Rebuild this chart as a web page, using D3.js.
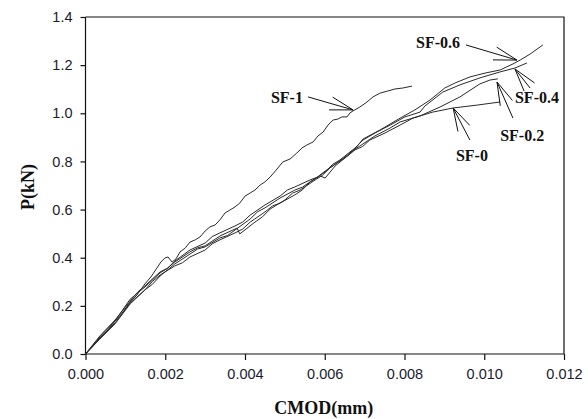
<!DOCTYPE html>
<html>
<head>
<meta charset="utf-8">
<script src="https://cdn.jsdelivr.net/npm/d3@7"></script>
<style>
  body { margin: 0; background: #fff; }
  svg { display: block; }
</style>
</head>
<body>
<div id="container"></div>
<script>
let width = 588;
let height = 419;

// CMOD (mm) and load P (kN) for each specimen
let sf0_cmod = [0, 0.00036, 0.00074, 0.00112, 0.00149, 0.00168, 0.00187, 0.00224, 0.00243, 0.00262, 0.003, 0.00318, 0.00337, 0.00375, 0.00394, 0.00413, 0.0045, 0.00469, 0.00488, 0.00525, 0.00544, 0.00563, 0.00588, 0.00601, 0.00626, 0.00676, 0.00695, 0.00713, 0.00751, 0.00789, 0.00821, 0.00871, 0.00922, 0.00982, 0.0104];
let sf0_load = [0, 0.066, 0.129, 0.212, 0.266, 0.302, 0.328, 0.366, 0.379, 0.403, 0.432, 0.458, 0.474, 0.503, 0.519, 0.548, 0.590, 0.615, 0.627, 0.661, 0.682, 0.715, 0.740, 0.731, 0.781, 0.848, 0.862, 0.889, 0.918, 0.951, 0.980, 1.005, 1.022, 1.034, 1.047];

let sf02_cmod = [0, 0.00036, 0.00074, 0.00112, 0.0013, 0.00149, 0.00187, 0.00205, 0.00224, 0.00262, 0.00281, 0.003, 0.00337, 0.0038, 0.00387, 0.00425, 0.00444, 0.00463, 0.005, 0.00519, 0.00538, 0.00576, 0.00594, 0.00613, 0.00651, 0.0067, 0.00688, 0.00726, 0.00764, 0.00789, 0.00839, 0.00889, 0.00939, 0.00989, 0.01014, 0.01034];
let sf02_load = [0, 0.075, 0.141, 0.220, 0.256, 0.283, 0.341, 0.356, 0.382, 0.424, 0.441, 0.449, 0.490, 0.523, 0.499, 0.548, 0.570, 0.602, 0.640, 0.668, 0.681, 0.723, 0.742, 0.773, 0.818, 0.845, 0.864, 0.906, 0.939, 0.964, 0.989, 1.026, 1.068, 1.122, 1.138, 1.143];

let sf04_cmod = [0, 0.00036, 0.00074, 0.00112, 0.00149, 0.00168, 0.00187, 0.00224, 0.00262, 0.00281, 0.003, 0.00337, 0.00356, 0.00375, 0.00413, 0.00431, 0.0045, 0.00488, 0.00525, 0.00544, 0.00563, 0.00601, 0.0062, 0.00638, 0.00676, 0.00696, 0.00726, 0.00764, 0.00801, 0.00839, 0.00851, 0.00896, 0.00939, 0.00989, 0.0104, 0.01077, 0.01107];
let sf04_load = [0, 0.062, 0.125, 0.208, 0.266, 0.290, 0.324, 0.374, 0.415, 0.436, 0.445, 0.482, 0.492, 0.515, 0.561, 0.590, 0.607, 0.648, 0.681, 0.693, 0.715, 0.756, 0.788, 0.806, 0.856, 0.889, 0.918, 0.951, 0.985, 1.005, 1.030, 1.088, 1.118, 1.147, 1.172, 1.188, 1.209];

let sf06_cmod = [0, 0.00036, 0.00074, 0.00112, 0.00149, 0.00187, 0.00205, 0.00224, 0.00262, 0.003, 0.00318, 0.00337, 0.00375, 0.00394, 0.00413, 0.0045, 0.00488, 0.00506, 0.00525, 0.00563, 0.00582, 0.00601, 0.00638, 0.00657, 0.00676, 0.00696, 0.00739, 0.00789, 0.00826, 0.00864, 0.00901, 0.00927, 0.00964, 0.01002, 0.0104, 0.01072, 0.0109, 0.01115, 0.01147];
let sf06_load = [0, 0.071, 0.137, 0.228, 0.278, 0.337, 0.355, 0.386, 0.432, 0.461, 0.488, 0.503, 0.532, 0.548, 0.577, 0.619, 0.656, 0.681, 0.694, 0.723, 0.735, 0.760, 0.802, 0.823, 0.852, 0.893, 0.931, 0.980, 1.014, 1.055, 1.105, 1.126, 1.151, 1.167, 1.180, 1.205, 1.221, 1.246, 1.284];

let sf1_cmod = [0, 0.00019, 0.00036, 0.00056, 0.00074, 0.00092, 0.00112, 0.00129, 0.00149, 0.00164, 0.00179, 0.00189, 0.00199, 0.00207, 0.00217, 0.00227, 0.00237, 0.0025, 0.00262, 0.00275, 0.00287, 0.003, 0.00312, 0.00325, 0.00337, 0.0035, 0.00362, 0.00375, 0.00387, 0.004, 0.00413, 0.00425, 0.00438, 0.0045, 0.00463, 0.00478, 0.00495, 0.00513, 0.0053, 0.00543, 0.00555, 0.00571, 0.00583, 0.00596, 0.00608, 0.00621, 0.00633, 0.00643, 0.00656, 0.00663, 0.00671, 0.00688, 0.00706, 0.00721, 0.00739, 0.00759, 0.00776, 0.00796, 0.00819];
let sf1_load = [0, 0.033, 0.066, 0.100, 0.137, 0.170, 0.216, 0.245, 0.291, 0.320, 0.357, 0.382, 0.399, 0.403, 0.382, 0.395, 0.424, 0.440, 0.465, 0.474, 0.486, 0.511, 0.528, 0.536, 0.557, 0.586, 0.598, 0.611, 0.627, 0.656, 0.669, 0.681, 0.702, 0.715, 0.735, 0.764, 0.798, 0.810, 0.835, 0.856, 0.868, 0.881, 0.906, 0.922, 0.951, 0.972, 0.976, 0.985, 0.985, 1.001, 1.010, 1.026, 1.047, 1.068, 1.084, 1.093, 1.101, 1.105, 1.113];

let xTicks = [0, 0.002, 0.004, 0.006, 0.008, 0.010, 0.012];
let yTicks = [0, 0.2, 0.4, 0.6, 0.8, 1.0, 1.2, 1.4];

// labels: text anchor, start of pointer line, tip of pointer
let labelNames = ["SF-1", "SF-0.6", "SF-0.4", "SF-0.2", "SF-0"];
let labelPos = [[0.00465, 1.068], [0.00829, 1.296], [0.01077, 1.068], [0.0104, 0.910], [0.00929, 0.827]];
let lineStart = [[0.00558, 1.068], [0.00954, 1.284], [0.01115, 1.105], [0.01072, 0.980], [0.00964, 0.889]];
let lineTip = [[0.00671, 1.014], [0.01082, 1.221], [0.01077, 1.184], [0.01032, 1.130], [0.00922, 1.022]];

let series = [
  { name: "SF-0", x: sf0_cmod, y: sf0_load },
  { name: "SF-0.2", x: sf02_cmod, y: sf02_load },
  { name: "SF-0.4", x: sf04_cmod, y: sf04_load },
  { name: "SF-0.6", x: sf06_cmod, y: sf06_load },
  { name: "SF-1", x: sf1_cmod, y: sf1_load },
];

function drawChart() {
  let svg = d3.select("#container")
    .append("svg")
    .attr("width", width)
    .attr("height", height);

  let x = d3.scaleLinear().domain([0, 0.012]).range([85.5, 564]);
  let y = d3.scaleLinear().domain([0, 1.4]).range([354, 17]);

  // frame: top and right sides
  svg.append("path")
    .attr("d", `M${x(0)},${y(1.4)}H${x(0.012)}V${y(0)}`)
    .attr("fill", "none")
    .attr("stroke", "#111")
    .attr("stroke-width", 1.2);

  let xAxis = svg.append("g")
    .attr("transform", `translate(0,${y(0)})`)
    .call(d3.axisBottom(x).tickValues(xTicks).tickFormat(d3.format(".3f")).tickSize(6).tickPadding(9));
  let yAxis = svg.append("g")
    .attr("transform", `translate(${x(0)},0)`)
    .call(d3.axisLeft(y).tickValues(yTicks).tickFormat(d3.format(".1f")).tickSize(5).tickPadding(8));

  [xAxis, yAxis].forEach(function (g) {
    g.select(".domain").attr("stroke", "#111").attr("stroke-width", 1.2);
    g.selectAll(".tick line").attr("stroke", "#111").attr("stroke-width", 1.2);
    g.selectAll(".tick text")
      .attr("fill", "#1a1a2e")
      .style("font-family", "Liberation Sans, Arial, sans-serif")
      .style("font-size", "14.5px");
  });
  // outer domain ticks off
  xAxis.select(".domain").attr("d", `M${x(0)},0H${x(0.012)}`);
  yAxis.select(".domain").attr("d", `M0,${y(0)}V${y(1.4)}`);

  // curves
  let line = d3.line()
    .x((d) => x(d[0]))
    .y((d) => y(d[1]));

  svg.append("g")
    .selectAll("path")
    .data(series)
    .join("path")
    .attr("d", (s) => line(s.x.map((v, i) => [v, s.y[i]])))
    .attr("fill", "none")
    .attr("stroke", "#2a2a2a")
    .attr("stroke-width", 1)
    .attr("stroke-linejoin", "round");

  // labels and pointers
  let ann = svg.append("g");
  labelNames.forEach(function (name, i) {
    let x0 = x(lineStart[i][0]), y0 = y(lineStart[i][1]);
    let x1 = x(lineTip[i][0]), y1 = y(lineTip[i][1]);
    ann.append("line")
      .attr("x1", x0).attr("y1", y0).attr("x2", x1).attr("y2", y1)
      .attr("stroke", "#111").attr("stroke-width", 1);
    let ang = Math.atan2(y0 - y1, x0 - x1);
    [-0.28, 0.28].forEach(function (da) {
      ann.append("line")
        .attr("x1", x1 + 24 * Math.cos(ang + da))
        .attr("y1", y1 + 24 * Math.sin(ang + da))
        .attr("x2", x1).attr("y2", y1)
        .attr("stroke", "#111").attr("stroke-width", 1);
    });
    ann.append("text")
      .attr("x", x(labelPos[i][0]))
      .attr("y", y(labelPos[i][1]))
      .attr("dy", "0.35em")
      .style("font-family", "Liberation Serif, Times New Roman, serif")
      .style("font-weight", "bold")
      .style("font-size", "16px")
      .attr("fill", "#111")
      .text(name);
  });

  // axis titles
  svg.append("text")
    .attr("x", (x(0) + x(0.012)) / 2 - 1)
    .attr("y", 414)
    .attr("text-anchor", "middle")
    .style("font-family", "Liberation Serif, Times New Roman, serif")
    .style("font-weight", "bold")
    .style("font-size", "18px")
    .attr("fill", "#111")
    .text("CMOD(mm)");

  svg.append("text")
    .attr("transform", "translate(34,187) rotate(-90)")
    .attr("text-anchor", "middle")
    .style("font-family", "Liberation Serif, Times New Roman, serif")
    .style("font-weight", "bold")
    .style("font-size", "18px")
    .attr("fill", "#111")
    .text("P(kN)");
}

drawChart();
</script>
</body>
</html>
